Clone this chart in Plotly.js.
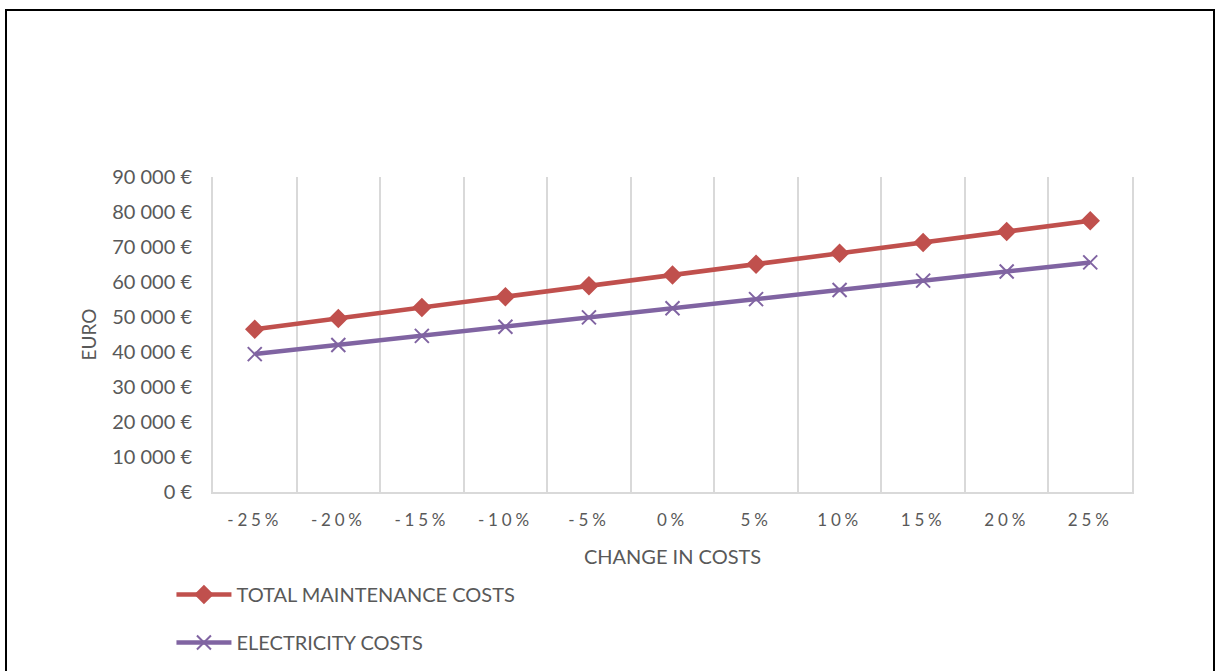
<!DOCTYPE html>
<html>
<head>
<meta charset="utf-8">
<script src="https://cdn.plot.ly/plotly-3.0.1.min.js"></script>
<style>
  html, body { margin: 0; padding: 0; background: #fff; }
  #chart { width: 1216px; height: 671px; }
  #frame {
    position: absolute; left: 5px; top: 9px; width: 1206px; height: 700px;
    border: 2px solid #000; pointer-events: none;
  }
  .xtick text { letter-spacing: 3.8px; }
</style>
</head>
<body>
<div id="chart"></div>
<div id="frame"></div>
<script>
// Cost sensitivity: change in costs vs. yearly cost in euro
const changeLabels = ['-25%', '-20%', '-15%', '-10%', '-5%', '0%', '5%', '10%', '15%', '20%', '25%'];
const totalMaintenance = [46500, 49600, 52700, 55800, 58900, 62000, 65100, 68200, 71300, 74400, 77500];
const electricity = [39400, 42000, 44600, 47200, 49900, 52500, 55100, 57700, 60400, 63000, 65600];
const seriesNames = ['TOTAL MAINTENANCE COSTS', 'ELECTRICITY COSTS'];
const xTitle = 'CHANGE IN COSTS';
const yTitle = 'EURO';

const fontFamily = 'Lato, "Open Sans", sans-serif';
const textColor = '#595959';
const gridColor = '#d9d9d9';

const traces = [
  {
    x: changeLabels, y: totalMaintenance, name: seriesNames[0], legendgroup: 'a',
    type: 'scatter', mode: 'lines+markers',
    line: { color: '#C0504D', width: 4.5 },
    marker: { symbol: 'diamond', size: 15, color: '#C0504D' }
  },
  {
    x: changeLabels, y: electricity, name: seriesNames[1], legendgroup: 'b',
    type: 'scatter', mode: 'lines+markers',
    line: { color: '#8064A2', width: 4.5 },
    marker: { symbol: 'x-thin-open', size: 14, color: '#8064A2', line: { color: '#8064A2', width: 2 } }
  }
];

const layout = {
  width: 1216, height: 671,
  margin: { l: 213, r: 84, t: 177, b: 179, autoexpand: false },
  paper_bgcolor: '#fff', plot_bgcolor: '#fff',
  separators: ', ',
  font: { family: fontFamily, color: textColor, size: 18 },
  showlegend: true,
  legend: {
    orientation: 'v', xref: 'container', yref: 'container',
    x: 0.141, y: 0.143, xanchor: 'left', yanchor: 'top',
    font: { size: 20, color: textColor, family: fontFamily },
    itemwidth: 55, tracegroupgap: 19, bgcolor: 'rgba(0,0,0,0)'
  },
  xaxis: {
    type: 'category', range: [-0.5, 10.5],
    showgrid: true, gridcolor: gridColor, gridwidth: 2,
    tickson: 'boundaries', ticks: '',
    showline: true, linecolor: gridColor, linewidth: 2,
    zeroline: false, ticklabelstandoff: 12,
    tickfont: { size: 17, color: textColor, family: fontFamily },
    title: { text: xTitle, standoff: 21, font: { size: 20, color: textColor, family: fontFamily } },
    automargin: false, fixedrange: true
  },
  yaxis: {
    range: [0, 90000], dtick: 10000, tickformat: ',d', ticksuffix: ' €',
    showgrid: false, zeroline: false, ticks: '',
    showline: true, mirror: true, linecolor: gridColor, linewidth: 2,
    ticklabelstandoff: 15,
    tickfont: { size: 20, color: textColor, family: fontFamily },
    automargin: false, fixedrange: true
  },
  annotations: [
    {
      text: yTitle, textangle: -90, showarrow: false,
      xref: 'paper', yref: 'paper', x: -0.136, y: 0.5,
      xanchor: 'center', yanchor: 'middle',
      font: { size: 19, color: textColor, family: fontFamily }
    }
  ]
};

Plotly.newPlot('chart', traces, layout, { staticPlot: true, displayModeBar: false });
</script>
</body>
</html>
